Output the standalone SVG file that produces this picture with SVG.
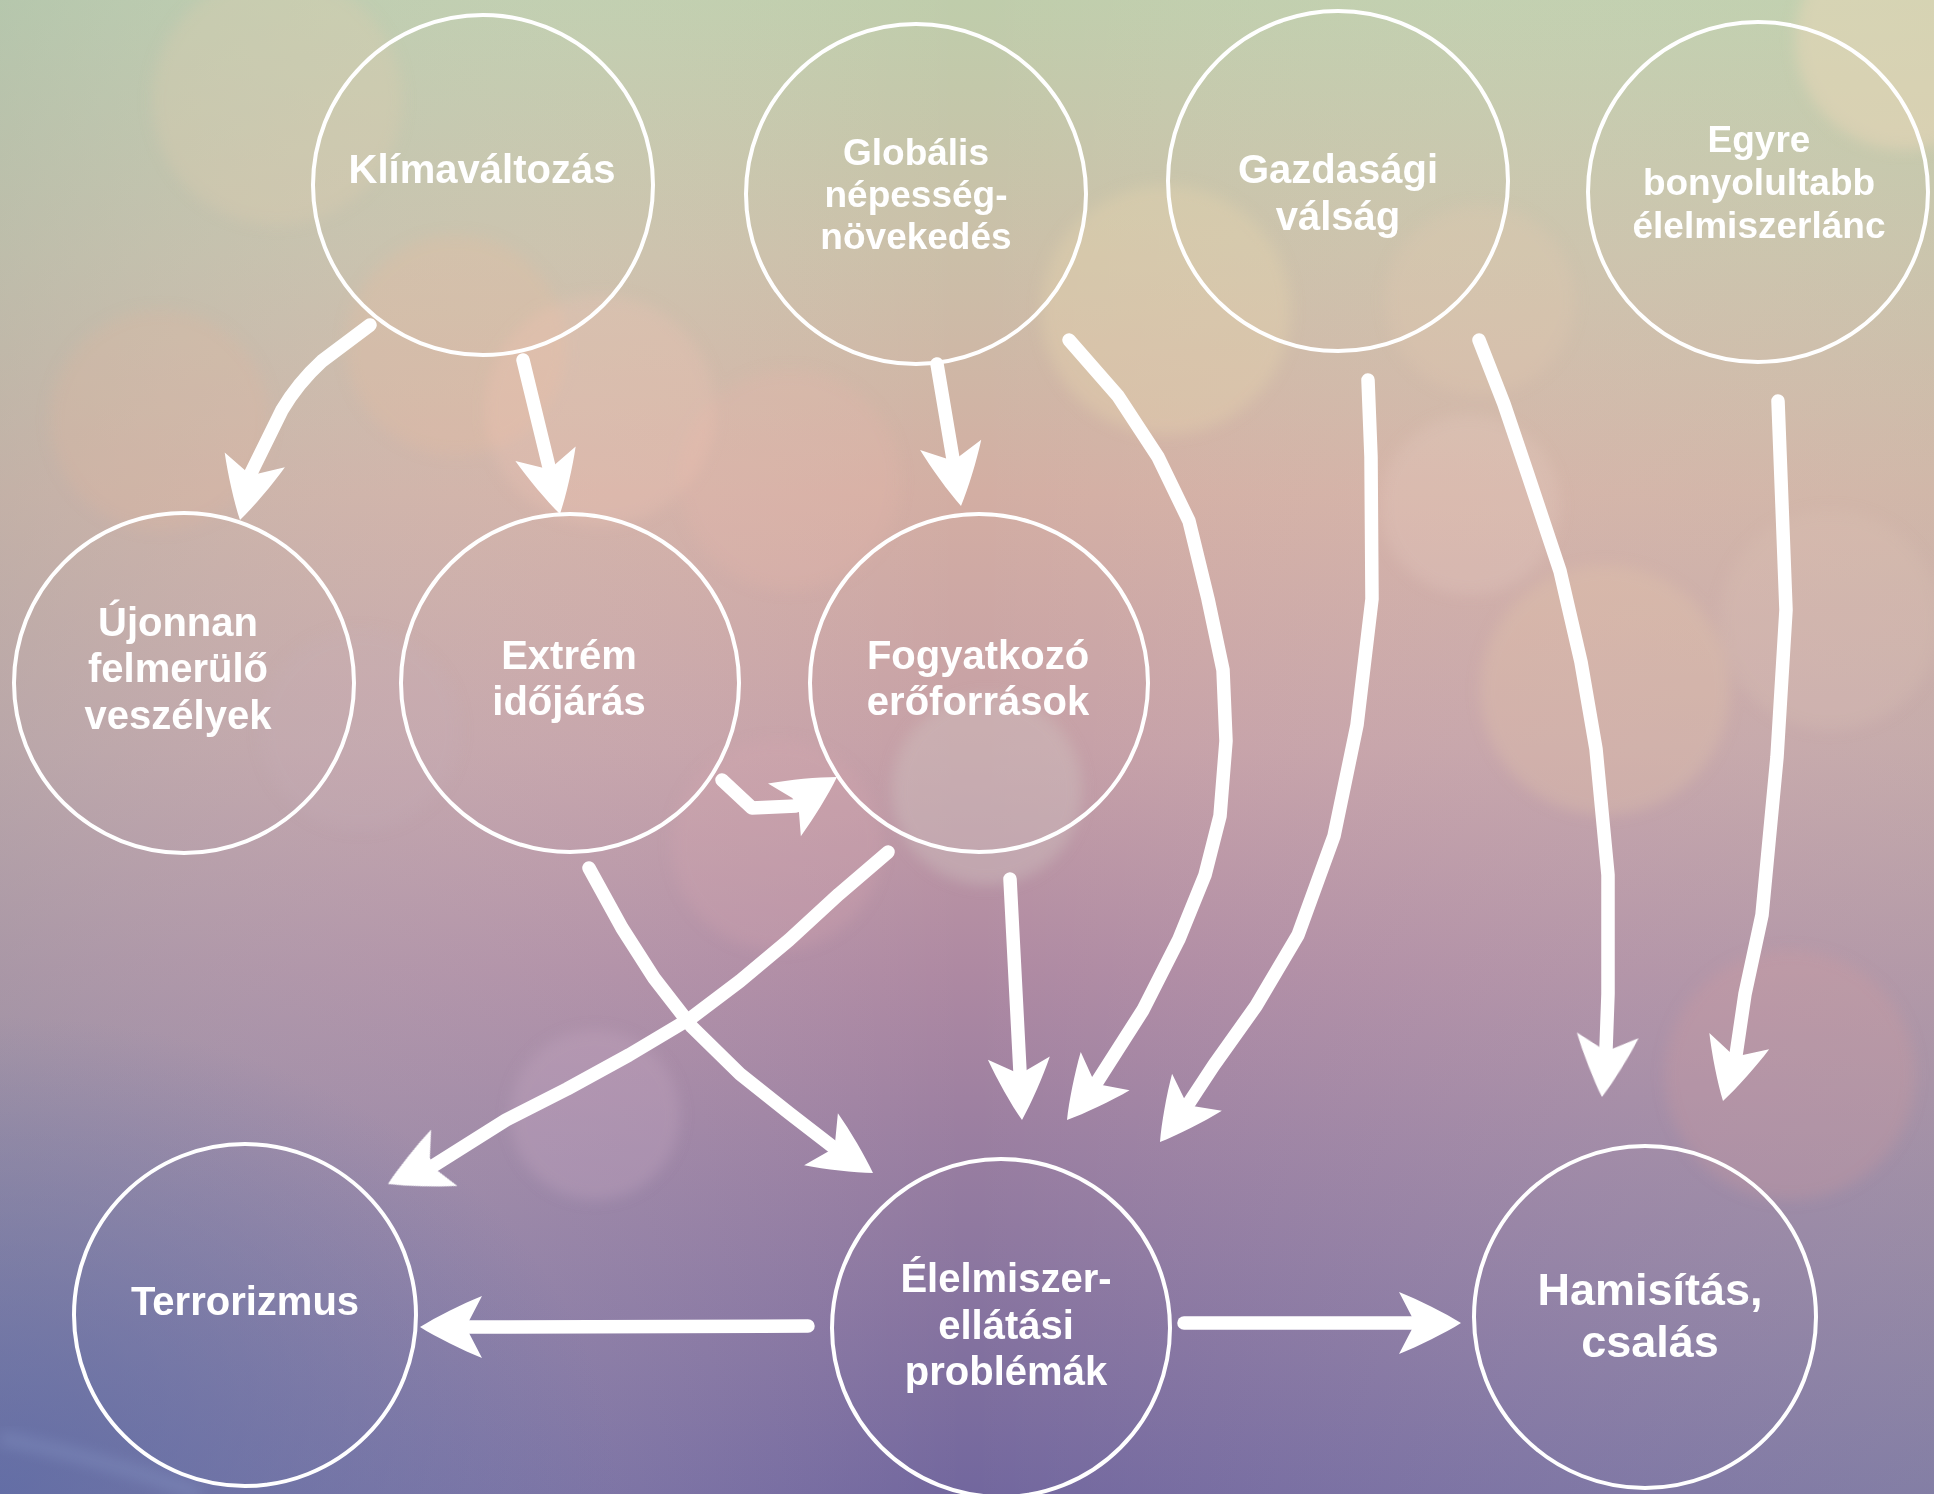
<svg xmlns="http://www.w3.org/2000/svg" xmlns:xlink="http://www.w3.org/1999/xlink" width="1934" height="1494" viewBox="0 0 1934 1494">
<defs>
<linearGradient id="bg" x1="0" y1="0" x2="0" y2="1">
<stop offset="0" stop-color="#bfcdab"/>
<stop offset="0.17" stop-color="#cbbfa8"/>
<stop offset="0.33" stop-color="#d3aea3"/>
<stop offset="0.5" stop-color="#c59fa6"/>
<stop offset="0.65" stop-color="#ae89a2"/>
<stop offset="0.82" stop-color="#9079a0"/>
<stop offset="1" stop-color="#72679e"/>
</linearGradient>
<linearGradient id="side" x1="0" y1="0" x2="1" y2="0">
<stop offset="0" stop-color="#9fb8b0" stop-opacity="0.3"/>
<stop offset="0.5" stop-color="#ffffff" stop-opacity="0"/>
<stop offset="1" stop-color="#c8dcc0" stop-opacity="0.2"/>
</linearGradient>
<radialGradient id="corner" cx="0" cy="1" r="0.32">
<stop offset="0" stop-color="#5a68a6" stop-opacity="0.75"/>
<stop offset="1" stop-color="#5a68a6" stop-opacity="0"/>
</radialGradient>
<filter id="soft" x="-20%" y="-20%" width="140%" height="140%">
<feGaussianBlur stdDeviation="7"/>
</filter>
<path id="ah" d="M0,0 C-16,-10 -42,-23 -62,-31 L-49,-6 L-49,6 L-62,31 C-42,23 -16,10 0,0 Z"/>
</defs>
<style>
.node{fill:none;stroke:#ffffff;stroke-width:4}
.lbl{font-family:"Liberation Sans",Arial,sans-serif;font-weight:bold;fill:#ffffff;text-anchor:middle}
.s40{font-size:40px}
.s37{font-size:37px}
.s45{font-size:45px}
.shaft{fill:none;stroke:#ffffff;stroke-width:13.5;stroke-linecap:round;stroke-linejoin:round}
.head{fill:#ffffff}
.bk{filter:url(#soft)}
</style>
<rect x="0" y="0" width="1934" height="1494" fill="url(#bg)"/>
<rect x="0" y="0" width="1934" height="1494" fill="url(#side)"/>
<rect x="0" y="0" width="1934" height="1494" fill="url(#corner)"/>
<g id="bokeh" class="bk">
<circle cx="277" cy="100" r="125" fill="#e2cdb0" opacity="0.3"/>
<circle cx="160" cy="420" r="110" fill="#e3b89e" opacity="0.25"/>
<circle cx="456" cy="345" r="110" fill="#ecbba0" opacity="0.25"/>
<circle cx="600" cy="410" r="115" fill="#f0c4b4" opacity="0.3"/>
<circle cx="790" cy="480" r="110" fill="#e8b8ac" opacity="0.25"/>
<circle cx="1166" cy="310" r="125" fill="#e8d8b0" opacity="0.35"/>
<circle cx="1480" cy="300" r="95" fill="#e8ccb0" opacity="0.25"/>
<circle cx="1470" cy="505" r="90" fill="#ecd0c4" opacity="0.25"/>
<circle cx="1605" cy="690" r="125" fill="#e8c8a8" opacity="0.3"/>
<circle cx="1830" cy="620" r="110" fill="#e0c4b8" opacity="0.25"/>
<circle cx="1790" cy="1075" r="125" fill="#d8a0a0" opacity="0.25"/>
<circle cx="987" cy="790" r="95" fill="#d0c4c0" opacity="0.4"/>
<circle cx="777" cy="845" r="105" fill="#d8a8b0" opacity="0.25"/>
<circle cx="595" cy="1115" r="85" fill="#c8a8c4" opacity="0.3"/>
<circle cx="1905" cy="40" r="110" fill="#ecd8b8" opacity="0.5"/>
<circle cx="360" cy="730" r="100" fill="#c8b0b8" opacity="0.2"/>
</g>
<path id="streak" d="M0,1438 Q110,1460 200,1494" fill="none" stroke="#8a9ac8" stroke-width="14" opacity="0.35" filter="url(#soft)"/>
<g id="connectors">
<path class="shaft" d="M370,325 L322,361 Q298,383 282,410 L251,473"/>
<use href="#ah" class="head" transform="translate(240,520) rotate(103.8)"/>
<path class="shaft" d="M523,360 L549,467"/>
<use href="#ah" class="head" transform="translate(560,514) rotate(76.5)"/>
<path class="shaft" d="M937,364 L953,459"/>
<use href="#ah" class="head" transform="translate(961,506) rotate(80.4)"/>
<path class="shaft" d="M1069,340 L1118,396 L1158,457 L1189,521 L1208,599 L1223,670 L1226,741 L1220,816 L1205,875 L1179,939 L1143,1010 L1097,1082"/>
<use href="#ah" class="head" transform="translate(1067,1120) rotate(128)"/>
<path class="shaft" d="M1368,380 L1371,457 L1372,599 L1357,725 L1334,836 L1298,935 L1256,1006 L1214,1065 L1189,1103"/>
<use href="#ah" class="head" transform="translate(1160,1142) rotate(126.6)"/>
<path class="shaft" d="M1010,879 L1020,1072"/>
<use href="#ah" class="head" transform="translate(1022,1120) rotate(87.1)"/>
<path class="shaft" d="M589,868 L622,928 L654,978 L692,1027 L740,1074 L789,1113 L833,1147"/>
<use href="#ah" class="head" transform="translate(873,1173) rotate(33)"/>
<path class="shaft" d="M888,852 L839,894 L789,940 L740,981 L691,1018 L629,1055 L567,1089 L506,1120 L433,1166"/>
<use href="#ah" class="head" transform="translate(388,1184) rotate(155)"/>
<path class="shaft" d="M722,780 L752,808 L796,806"/>
<use href="#ah" class="head" transform="translate(837,777) rotate(-32)"/>
<path class="shaft" d="M1479,340 L1504,404 L1528,475 L1560,571 L1581,662 L1596,749 L1608,875 L1608,994 L1606,1049"/>
<use href="#ah" class="head" transform="translate(1602,1097) rotate(95.3)"/>
<path class="shaft" d="M1778,401 L1786,610 L1777,757 L1762,915 L1745,994 L1736,1055"/>
<use href="#ah" class="head" transform="translate(1723,1101) rotate(105.2)"/>
<path class="shaft" d="M808,1326 L468,1327" stroke-linecap="butt"/>
<use href="#ah" class="head" transform="translate(420,1327) rotate(180)"/>
<path class="shaft" d="M1184,1323 L1413,1323" stroke-linecap="butt"/>
<use href="#ah" class="head" transform="translate(1461,1323)"/>
</g>
<g id="n-klima">
<circle class="node" cx="483" cy="185" r="170"/>
<text class="lbl s40" x="482" y="183">Klímaváltozás</text>
</g>
<g id="n-nepesseg">
<circle class="node" cx="916" cy="194" r="170"/>
<text class="lbl s37" x="916" y="165">Globális</text>
<text class="lbl s37" x="916" y="207">népesség-</text>
<text class="lbl s37" x="916" y="249">növekedés</text>
</g>
<g id="n-gazdasag">
<circle class="node" cx="1338" cy="181" r="170"/>
<text class="lbl s40" x="1338" y="183">Gazdasági</text>
<text class="lbl s40" x="1338" y="230">válság</text>
</g>
<g id="n-lanc">
<circle class="node" cx="1758" cy="192" r="170"/>
<text class="lbl s37" x="1759" y="152">Egyre</text>
<text class="lbl s37" x="1759" y="195">bonyolultabb</text>
<text class="lbl s37" x="1759" y="238">élelmiszerlánc</text>
</g>
<g id="n-ujonnan">
<circle class="node" cx="184" cy="683" r="170"/>
<text class="lbl s40" x="178" y="636">Újonnan</text>
<text class="lbl s40" x="178" y="682">felmerülő</text>
<text class="lbl s40" x="178" y="729">veszélyek</text>
</g>
<g id="n-extrem">
<circle class="node" cx="570" cy="683" r="169"/>
<text class="lbl s40" x="569" y="669">Extrém</text>
<text class="lbl s40" x="569" y="715">időjárás</text>
</g>
<g id="n-fogyatkozo">
<circle class="node" cx="979" cy="683" r="169"/>
<text class="lbl s40" x="978" y="669">Fogyatkozó</text>
<text class="lbl s40" x="978" y="715">erőforrások</text>
</g>
<g id="n-terror">
<circle class="node" cx="245" cy="1315" r="171"/>
<text class="lbl s40" x="245" y="1315">Terrorizmus</text>
</g>
<g id="n-ellatas">
<circle class="node" cx="1001" cy="1328" r="169"/>
<text class="lbl s40" x="1006" y="1292">Élelmiszer-</text>
<text class="lbl s40" x="1006" y="1339">ellátási</text>
<text class="lbl s40" x="1006" y="1385">problémák</text>
</g>
<g id="n-hamisitas">
<circle class="node" cx="1645" cy="1317" r="171"/>
<text class="lbl s45" x="1650" y="1305">Hamisítás,</text>
<text class="lbl s45" x="1650" y="1357">csalás</text>
</g>
</svg>
